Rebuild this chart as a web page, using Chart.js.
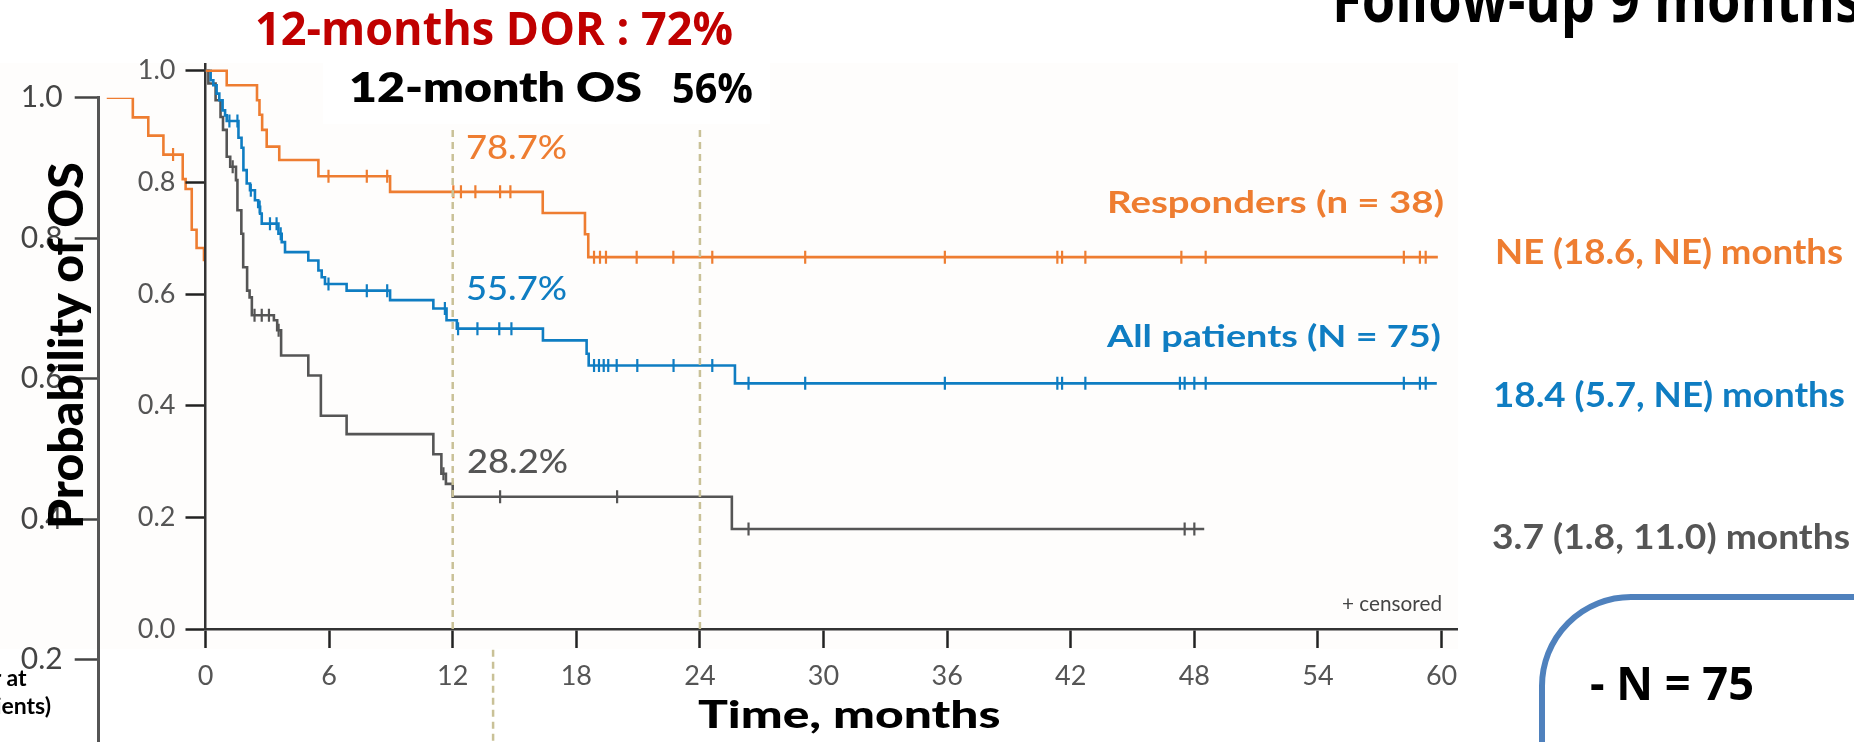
<!DOCTYPE html>
<html>
<head>
<meta charset="utf-8">
<script src="https://cdn.jsdelivr.net/npm/chart.js@4.4.1/dist/chart.umd.min.js"></script>
<style>
html, body { margin: 0; padding: 0; background: #fff; width: 1854px; height: 742px; overflow: hidden; position: relative; }
canvas { position: absolute; left: 0; top: 0; }
#paper { position: absolute; left: 0; top: 63px; width: 1458px; height: 586px; background: #fefdfc; }
#osBox { position: absolute; left: 323px; top: 60px; width: 447px; height: 64px; background: #fff; }
#nBox { position: absolute; left: 1539px; top: 594px; width: 600px; height: 400px; border: 6px solid #4f81bd; border-radius: 92px; box-sizing: border-box; }
.lbl { position: absolute; white-space: nowrap; transform-origin: 0 0; }
</style>
</head>
<body>
<div id="paper"></div>
<canvas id="back" width="1854" height="830"></canvas>
<canvas id="main" width="1854" height="742"></canvas>
<div id="osBox"></div>
<div id="nBox"></div>
<script>
// ---- data ----
const xTicks = [0, 6, 12, 18, 24, 30, 36, 42, 48, 54, 60];
const yTicks = [0, 0.2, 0.4, 0.6, 0.8, 1.0];
const landmarkMonths = [12, 24];
const landmarkTop = 0.9;

// [month of step, survival after step]
const responders = [[0, 1.0], [1.03, 0.974], [2.5, 0.947], [2.62, 0.921], [2.75, 0.894], [2.97, 0.864],
  [3.58, 0.84], [5.48, 0.811], [8.96, 0.783], [16.37, 0.745], [18.42, 0.707], [18.58, 0.666], [59.82, 0.666]];
const respondersCensored = [5.97, 7.83, 8.82, 12.03, 12.4, 13.1, 14.3, 14.8, 18.86, 19.15, 19.44, 20.93,
  22.71, 24.6, 29.11, 35.89, 41.35, 41.58, 42.71, 47.37, 48.55, 58.17, 58.95, 59.23];

const allPatients = [[0, 1.0], [0.25, 0.983], [0.38, 0.974], [0.54, 0.959], [0.67, 0.947], [0.83, 0.929],
  [0.95, 0.92], [1.03, 0.91], [1.6, 0.88], [1.75, 0.862], [1.84, 0.822], [2.0, 0.798], [2.16, 0.786],
  [2.4, 0.768], [2.56, 0.756], [2.65, 0.744], [2.73, 0.726], [3.54, 0.708], [3.7, 0.693], [3.86, 0.675],
  [4.99, 0.66], [5.48, 0.642], [5.64, 0.63], [5.8, 0.618], [6.85, 0.606], [8.96, 0.589], [11.06, 0.574],
  [11.7, 0.553], [12.2, 0.538], [16.38, 0.517], [18.5, 0.493], [18.6, 0.472], [25.7, 0.44], [59.77, 0.44]];
const allCensored = [1.16, 1.55, 2.2, 2.63, 3.13, 3.45, 3.65, 5.97, 7.83, 8.82, 11.62, 12.26, 13.2, 14.26,
  14.85, 18.86, 19.1, 19.33, 19.55, 19.96, 20.96, 22.72, 24.6, 26.36, 29.11, 35.89, 41.35, 41.58, 42.71,
  47.3, 47.53, 48.0, 48.55, 58.17, 58.95, 59.23];

const nonResponders = [[0, 1.0], [0.14, 0.977], [0.49, 0.947], [0.73, 0.917], [0.85, 0.894], [1.03, 0.846],
  [1.2, 0.828], [1.48, 0.804], [1.55, 0.75], [1.74, 0.708], [1.83, 0.648], [2.02, 0.606], [2.14, 0.594],
  [2.25, 0.562], [3.32, 0.553], [3.48, 0.535], [3.67, 0.49], [4.99, 0.454], [5.6, 0.382], [6.85, 0.349],
  [11.06, 0.313], [11.45, 0.278], [11.67, 0.26], [12.0, 0.237], [25.55, 0.179], [48.48, 0.179]];
const nonRespCensored = [1.32, 2.38, 2.73, 3.08, 3.55, 11.55, 14.3, 19.98, 26.36, 47.53, 48.0];

// partly hidden figure behind the main one
const backTicks = [0.2, 0.4, 0.6, 0.8, 1.0];
const backCurve = [[0, 1.0], [0.81, 0.972], [1.29, 0.946], [1.76, 0.919], [2.36, 0.884], [2.45, 0.87],
  [2.64, 0.812], [2.79, 0.786], [3.02, 0.769], [3.08, 0.769]];
const backCensored = [2.06];
const backLandmark = 12;

const ORANGE = '#ee7d31';
const BLUE = '#0f7dc2';
const GRAY = '#555555';
const TAN = '#c9c197';

Chart.defaults.font.family = 'Lato';

const survAt = (steps, t) => {
  let s = steps[0][1];
  steps.forEach(([x, y]) => { if (x <= t) s = y; });
  return s;
};

const stepSet = (steps, color) => ({
  type: 'line',
  data: steps.map(([x, y]) => ({ x, y })),
  borderColor: color,
  borderWidth: 2.6,
  stepped: 'before',
  pointRadius: 0,
  fill: false,
  order: 2
});

const censorSet = (times, steps, color) => ({
  type: 'line',
  data: times.map(t => ({ x: t, y: survAt(steps, t) })),
  showLine: false,
  pointStyle: 'line',
  pointRotation: 90,
  pointRadius: 6.5,
  pointBorderColor: color,
  pointBorderWidth: 2.2,
  order: 1
});

// move the plot area to where it sits in the picture
const pinArea = (chart, target) => {
  for (let i = 0; i < 4; i++) {
    const a = chart.chartArea;
    const p = chart.options.layout.padding;
    p.left += target.left - a.left;
    p.top += target.top - a.top;
    p.right += a.right - target.right;
    p.bottom += a.bottom - target.bottom;
    chart.update('none');
  }
};

// ---- background figure ----
const backChart = new Chart(document.getElementById('back'), {
  type: 'line',
  data: {
    datasets: [stepSet(backCurve, ORANGE), censorSet(backCensored, backCurve, ORANGE)]
  },
  options: {
    responsive: false,
    animation: false,
    devicePixelRatio: 1,
    layout: { padding: { left: 0, right: 0, top: 0, bottom: 0 } },
    plugins: { legend: { display: false }, tooltip: { enabled: false } },
    scales: {
      x: { type: 'linear', min: -0.25, max: 54, display: false },
      y: {
        type: 'linear', min: 0, max: 1,
        afterBuildTicks: s => { s.ticks = backTicks.map(v => ({ value: v })); },
        ticks: { font: { size: 30 }, color: '#444', padding: 12, callback: v => v.toFixed(1) },
        grid: { drawOnChartArea: false, tickLength: 24, tickColor: '#444', tickWidth: 2.5 },
        border: { color: '#555', width: 3 }
      }
    }
  },
  plugins: [{
    id: 'backLandmark',
    afterDatasetsDraw(chart) {
      const ctx = chart.ctx;
      const x = chart.scales.x.getPixelForValue(backLandmark);
      ctx.save();
      ctx.strokeStyle = TAN;
      ctx.lineWidth = 2.5;
      ctx.setLineDash([7, 5]);
      ctx.beginPath();
      ctx.moveTo(x, chart.chartArea.top);
      ctx.lineTo(x, chart.height);
      ctx.stroke();
      ctx.restore();
    }
  }]
});
pinArea(backChart, { left: 98.7, top: 97.7, right: 1847, bottom: 809 });

// ---- main figure ----
const landmarkSets = landmarkMonths.map(m => ({
  type: 'line',
  data: [{ x: m, y: 0 }, { x: m, y: landmarkTop }],
  borderColor: TAN,
  borderWidth: 2.5,
  borderDash: [7, 5],
  pointRadius: 0,
  order: 0
}));

const mainChart = new Chart(document.getElementById('main'), {
  type: 'line',
  data: {
    datasets: [
      stepSet(responders, ORANGE), censorSet(respondersCensored, responders, ORANGE),
      stepSet(allPatients, BLUE), censorSet(allCensored, allPatients, BLUE),
      stepSet(nonResponders, GRAY), censorSet(nonRespCensored, nonResponders, GRAY),
      ...landmarkSets
    ]
  },
  options: {
    responsive: false,
    animation: false,
    devicePixelRatio: 1,
    layout: { padding: { left: 0, right: 0, top: 0, bottom: 0 } },
    plugins: { legend: { display: false }, tooltip: { enabled: false } },
    scales: {
      x: {
        type: 'linear', min: 0, max: 60.75,
        afterBuildTicks: s => { s.ticks = xTicks.map(v => ({ value: v })); },
        ticks: { font: { size: 27 }, color: '#555', padding: 12, maxRotation: 0, autoSkip: false, callback: v => v },
        grid: { drawOnChartArea: false, tickLength: 19, tickColor: '#222', tickWidth: 2.5 },
        border: { color: '#333', width: 2.5 }
      },
      y: {
        type: 'linear', min: 0, max: 1.012,
        afterBuildTicks: s => { s.ticks = yTicks.map(v => ({ value: v })); },
        ticks: { font: { size: 27 }, color: '#555', padding: 10, callback: v => v.toFixed(1) },
        grid: { drawOnChartArea: false, tickLength: 20, tickColor: '#222', tickWidth: 2.5 },
        border: { color: '#333', width: 2.5 }
      }
    }
  },
  plugins: [{
    id: 'paper',
    beforeDraw(chart) {
      const a = chart.chartArea;
      const ctx = chart.ctx;
      ctx.save();
      ctx.fillStyle = '#fefdfc';
      ctx.fillRect(a.left, a.top - 1, a.right - a.left + 1, a.bottom - a.top + 20);
      ctx.restore();
    }
  }]
});
pinArea(mainChart, { left: 205.5, top: 64, right: 1457, bottom: 629 });

// ---- text on the slide ----
const texts = [
  { text: '12-months DOR : 72%', x: 254.5, y: 45, w: 478, font: '700 46px "Open Sans"', color: '#c00000' },
  { text: '12-month OS', x: 349, y: 102, w: 293, font: '800 42px Lato', color: '#000' },
  { text: '56%', x: 671.5, y: 103, w: 81, font: '700 42px "Open Sans"', color: '#000' },
  { text: '78.7%', x: 466, y: 159, w: 101, font: '500 33px Lato', color: ORANGE },
  { text: '55.7%', x: 466, y: 299.5, w: 101, font: '500 33px Lato', color: BLUE },
  { text: '28.2%', x: 467, y: 472.7, w: 101, font: '500 33px Lato', color: GRAY },
  { text: 'Responders (n = 38)', x: 1444, y: 213.3, w: 337, align: 'right', font: '700 30px Lato', color: ORANGE },
  { text: 'All patients (N = 75)', x: 1441, y: 346.7, w: 334, align: 'right', font: '700 30px Lato', color: BLUE },
  { text: '+ censored', x: 1441.6, y: 610.7, w: 100, align: 'right', font: '400 21px Lato', color: '#444' },
  { text: 'Time, months', x: 698, y: 728.3, w: 302.5, font: '900 37px Lato', color: '#000' },
  { text: 'NE (18.6, NE) months', x: 1495, y: 264, w: 348, font: '700 35px Lato', color: ORANGE },
  { text: '18.4 (5.7, NE) months', x: 1493, y: 407, w: 352, font: '700 35px Lato', color: BLUE },
  { text: '3.7 (1.8, 11.0) months', x: 1491.7, y: 549, w: 358, font: '700 35px Lato', color: GRAY },
  { text: '- N = 75', x: 1590, y: 700, w: 164, font: '700 46px "Open Sans"', color: '#000' },
  { text: 'Follow-up 9 months', x: 1332, y: 21.7, w: 530, font: '700 64px "Open Sans"', color: '#000' },
  { text: 'Number at', x: 27, y: 686, align: 'right', font: '700 23px Lato', color: '#000' },
  { text: 'risk (patients)', x: 51, y: 714, align: 'right', font: '700 23px Lato', color: '#000' },
  { text: 'Probability of OS', x: 83, y: 529, w: 369, rotate: true, font: '900 48px Lato', color: '#000' }
];

const measure = document.createElement('canvas').getContext('2d');
texts.forEach(t => {
  measure.font = t.font;
  const m = measure.measureText(t.text);
  const asc = m.fontBoundingBoxAscent;
  const desc = m.fontBoundingBoxDescent;
  const k = t.w ? t.w / m.width : 1;
  const el = document.createElement('div');
  el.className = 'lbl';
  el.textContent = t.text;
  el.style.font = t.font;
  el.style.lineHeight = (asc + desc) + 'px';
  el.style.color = t.color;
  el.style.top = (t.y - asc) + 'px';
  if (t.rotate) {
    el.style.left = t.x + 'px';
    el.style.transformOrigin = `0 ${asc}px`;
    el.style.transform = `rotate(-90deg) scaleX(${k})`;
  } else {
    const w = m.width * k;
    el.style.left = (t.align === 'right' ? t.x - w : t.x) + 'px';
    el.style.transform = `scaleX(${k})`;
  }
  document.body.appendChild(el);
});
</script>
</body>
</html>
